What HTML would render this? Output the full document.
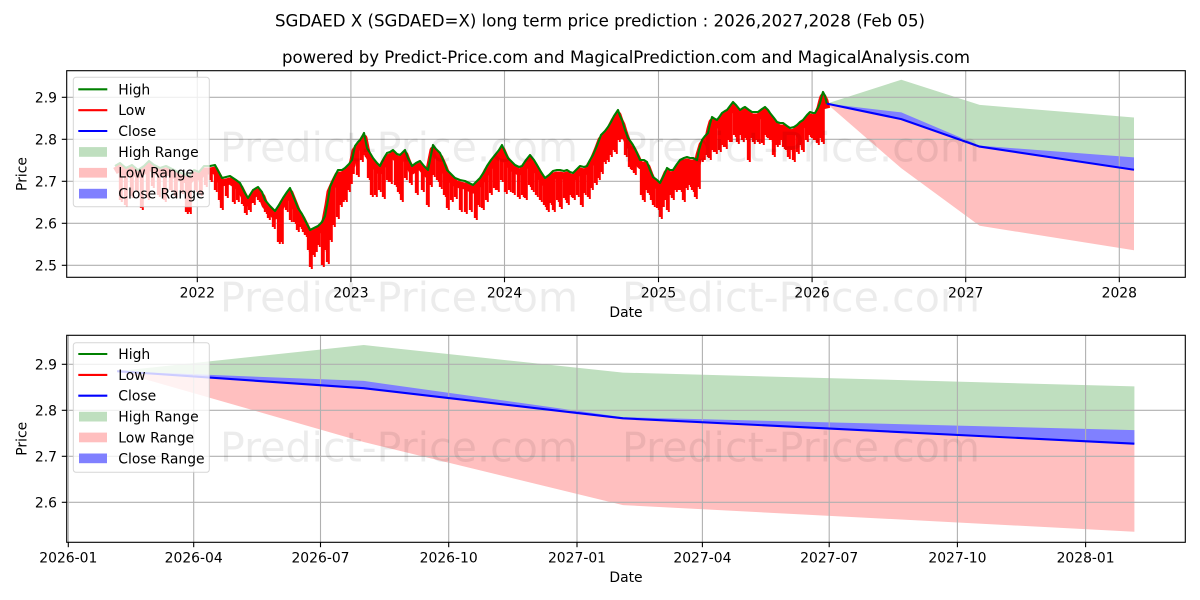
<!DOCTYPE html>
<html><head><meta charset="utf-8"><style>
html,body{margin:0;padding:0;background:#fff;}
svg{display:block;}
text{font-family:"DejaVu Sans","Liberation Sans",sans-serif;fill:#000;}
</style></head><body>
<svg width="1200" height="600" viewBox="0 0 1200 600" xmlns="http://www.w3.org/2000/svg">
<defs>
<polyline id="hi" fill="none" stroke-linejoin="round" points="115,166 120,163 126,168 132,165 138,170 144,166 149,161 154,165 160,168 166,166 172,169 178,172 184,174 189,176 194,170 199,172 204,166 210,166 215,165 222,178 230,176 236,180 240,183 245,193 248,198 253,190 258,187 262,192 265,200 270,206 275,211 279,205 283,198 287,192 290,188 294,198 298,208 302,214 305,220 308,226 310,230 314,228 318,226 322,222 325,216 328,200 330,187 334,178 338,170 342,170 345,168 349,164 352,160 355,146 358,142 360,140 362,137 364,133 367,148 370,153 373,158 377,163 380,166 384,158 387,153 390,152 393,150 397,154 400,155 405,150 408,158 412,166 416,163 420,161 424,166 428,170 431,155 433,145 436,149 440,153 444,162 447,170 451,174 455,178 460,180 465,181 469,183 473,185 477,181 480,178 484,172 487,166 491,160 495,155 499,150 502,145 505,152 508,158 512,162 515,165 519,167 522,166 526,160 530,155 534,160 537,165 541,172 545,178 549,175 553,171 557,170 560,170 564,171 567,170 570,172 573,173 577,169 580,166 584,167 587,166 590,160 593,155 596,148 598,143 601,135 605,131 608,127 611,122 614,116 618,110 620,116 622,120 625,130 628,138 631,142 633,145 637,153 640,160 644,160 647,162 650,170 653,177 657,180 660,183 664,175 667,168 670,170 673,170 677,164 680,160 684,158 687,157 690,158 693,158 697,160 699,150 702,140 705,136 708,133 710,124 712,117 715,119 717,120 720,116 722,113 725,111 727,110 730,106 733,102 736,105 740,110 743,108 745,107 749,110 752,112 755,112 758,112 762,109 765,107 768,110 770,113 774,118 777,122 780,123 783,123 787,126 790,128 794,127 797,125 800,122 803,120 807,115 810,112 813,113 815,113 818,108 820,103 822,95 823,92 825,96 826.8,103.6"/>
<path id="spk" fill="none" d="M120 166V200M125 170V205M131 168V196M136 172V190M141 170V208M147 166V198M152 166V186M158 170V195M164 170V200M170 171V190M175 175V196M181 176V192M186 177V212M189 179V212M195 173V190M200 174V194M205 169V185
M210 169V180M215 168V190M219 175V200M221 180V208M226 180V196M233 181V202M237 184V200M242 190V204M245 196V213M249 199V210M253 193V203M258 190V200M262 195V203M265 203V212M268 207V218M273 212V227M278 210V242M281 205V242M286 196V210M290 191V220M294 201V222M297 209V230M300 214V227M303 219V232M305 223V235M308 229V250M310 233V267M313 232V255M315 231V250M318 229V245M322 225V265M325 219V250M327 210V262M330 190V240M333 183V225M337 175V217M340 173V205M342 173V200M345 171V200M348 168V190M350 165V182M352 163V172M357 146V175M361 141V160M364 136V155M368 153V178M371 158V195M375 164V195M379 168V190M383 163V197M387 156V180M390 155V182M395 155V185M398 157V192M401 158V200M405 153V178M410 166V183M416 166V193M422 166V190M427 172V205M430 163V185M433 148V175M437 153V180M440 156V187M444 165V195M447 173V208M451 177V200M455 181V197M460 183V210M465 184V212M470 187V210M475 186V218M478 183V205M482 178V208M486 171V200M490 164V193M494 159V188M497 155V190M501 150V180M505 155V192M509 162V190M513 166V193M518 169V197M522 169V195M525 165V198M529 159V185M532 159V190M536 166V195M540 173V200M544 180V205M547 179V210M550 177V203M553 174V210M557 173V200M560 173V207M564 174V198M567 173V203M570 175V195M573 176V198M577 172V195M581 169V205M584 170V193M588 168V197M591 162V188M595 153V183M598 146V178M601 138V172M604 135V162M607 131V160M610 126V155M613 121V150M615 118V152M618 113V140M620 119V137M625 133V155M629 142V167M632 146V170M634 149V173M638 158V167M641 163V195M643 163V200M646 164V190M648 166V193M651 175V200M653 180V205M657 183V208M660 186V217M662 182V205M664 178V198M667 171V210M670 173V195M672 173V198M675 170V190M677 167V188M680 163V190M683 162V200M686 160V188M689 161V185M692 161V190M695 162V197M698 158V187M701 146V160M703 142V158M706 138V155M709 132V158M712 120V150M715 122V152M719 120V150M722 116V145M725 114V147M728 112V140M730 109V140M734 106V135M737 109V142M740 113V135M742 112V140M745 110V138M748 112V160M751 114V138M753 115V142M756 115V140M758 115V142M762 112V143M765 110V135M768 113V138M771 117V140M773 120V155M776 124V145M778 125V143M781 126V140M783 126V147M786 128V150M788 130V157M791 131V150M793 130V160M797 128V152M800 125V145M802 124V150M806 119V140M809 116V135M812 115V138M815 116V140M817 114V143M820 106V138M822 99V142"/>
</defs>

<text x="600" y="26.5" font-size="16.67" text-anchor="middle" textLength="650" lengthAdjust="spacingAndGlyphs">SGDAED X (SGDAED=X) long term price prediction : 2026,2027,2028 (Feb 05)</text>
<text x="626" y="63" font-size="16.67" text-anchor="middle" textLength="688" lengthAdjust="spacingAndGlyphs">powered by Predict-Price.com and MagicalPrediction.com and MagicalAnalysis.com</text>

<!-- ================= TOP CHART ================= -->
<polygon fill="#bfdfbf" points="826.8,103.6 901.3,79.7 979.6,104.9 1134,117.5 1134,169.75 979.6,146.6 901.3,119.1"/>
<polygon fill="#ffbfbf" points="826.8,103.6 901.3,119.1 979.6,146.6 1134,169.75 1134,250.2 979.6,225.8 901.3,168.3"/>
<polygon fill="#8080ff" points="826.8,103.6 901.3,112.4 979.6,145.6 1134,157.4 1134,169.75 979.6,146.6 901.3,119.1"/>

<g stroke="#b0b0b0" stroke-width="1.1">
<line x1="197.3" y1="70.7" x2="197.3" y2="277.3"/>
<line x1="350.9" y1="70.7" x2="350.9" y2="277.3"/>
<line x1="504.5" y1="70.7" x2="504.5" y2="277.3"/>
<line x1="658.5" y1="70.7" x2="658.5" y2="277.3"/>
<line x1="812.1" y1="70.7" x2="812.1" y2="277.3"/>
<line x1="965.7" y1="70.7" x2="965.7" y2="277.3"/>
<line x1="1119.3" y1="70.7" x2="1119.3" y2="277.3"/>
<line x1="66.7" y1="97.3" x2="1185.3" y2="97.3"/>
<line x1="66.7" y1="139.3" x2="1185.3" y2="139.3"/>
<line x1="66.7" y1="181.3" x2="1185.3" y2="181.3"/>
<line x1="66.7" y1="223.3" x2="1185.3" y2="223.3"/>
<line x1="66.7" y1="265.3" x2="1185.3" y2="265.3"/>
</g>

<use href="#hi" transform="translate(0,5)" stroke="#ff0000" stroke-width="7"/>
<use href="#spk" stroke="#ff0000" stroke-width="2.3"/>
<use href="#spk" transform="translate(1.8,2)" stroke="#ff0000" stroke-width="2"/>
<use href="#hi" stroke="#008000" stroke-width="2.1"/>

<polyline fill="none" stroke="#0000ff" stroke-width="2.1" stroke-linejoin="round" points="826.8,103.6 901.3,119.1 979.6,146.6 1134,169.75"/>

<rect x="66.7" y="70.7" width="1118.6" height="206.6" fill="none" stroke="#000" stroke-width="1.1"/>
<g stroke="#000" stroke-width="1.1">
<line x1="61.8" y1="97.3" x2="66.7" y2="97.3"/>
<line x1="61.8" y1="139.3" x2="66.7" y2="139.3"/>
<line x1="61.8" y1="181.3" x2="66.7" y2="181.3"/>
<line x1="61.8" y1="223.3" x2="66.7" y2="223.3"/>
<line x1="61.8" y1="265.3" x2="66.7" y2="265.3"/>
<line x1="197.3" y1="277.3" x2="197.3" y2="282.2"/>
<line x1="350.9" y1="277.3" x2="350.9" y2="282.2"/>
<line x1="504.5" y1="277.3" x2="504.5" y2="282.2"/>
<line x1="658.5" y1="277.3" x2="658.5" y2="282.2"/>
<line x1="812.1" y1="277.3" x2="812.1" y2="282.2"/>
<line x1="965.7" y1="277.3" x2="965.7" y2="282.2"/>
<line x1="1119.3" y1="277.3" x2="1119.3" y2="282.2"/>
</g>
<g font-size="13.9" text-anchor="end">
<text x="57" y="102.3">2.9</text>
<text x="57" y="144.3">2.8</text>
<text x="57" y="186.3">2.7</text>
<text x="57" y="228.3">2.6</text>
<text x="57" y="270.3">2.5</text>
</g>
<g font-size="13.9" text-anchor="middle">
<text x="197.3" y="297.5">2022</text>
<text x="350.9" y="297.5">2023</text>
<text x="504.5" y="297.5">2024</text>
<text x="658.5" y="297.5">2025</text>
<text x="812.1" y="297.5">2026</text>
<text x="965.7" y="297.5">2027</text>
<text x="1119.3" y="297.5">2028</text>
<text x="626" y="317">Date</text>
</g>
<text font-size="13.9" text-anchor="middle" transform="translate(26.5,174) rotate(-90)">Price</text>

<rect x="73.3" y="77.3" width="136" height="129.4" rx="2.8" fill="#fff" fill-opacity="0.8" stroke="#cccccc" stroke-opacity="0.8" stroke-width="1"/>
<g stroke-width="2.1">
<line x1="78.3" y1="89.3" x2="107.3" y2="89.3" stroke="#008000"/>
<line x1="78.3" y1="110.2" x2="107.3" y2="110.2" stroke="#ff0000"/>
<line x1="78.3" y1="131" x2="107.3" y2="131" stroke="#0000ff"/>
</g>
<rect x="79" y="147.1" width="28" height="9.7" fill="#bfdfbf"/>
<rect x="79" y="167.9" width="28" height="9.7" fill="#ffbfbf"/>
<rect x="79" y="188.8" width="28" height="9.7" fill="#8080ff"/>
<g font-size="13.9">
<text x="118.3" y="94.3">High</text>
<text x="118.3" y="115.2">Low</text>
<text x="118.3" y="136">Close</text>
<text x="118.3" y="156.9">High Range</text>
<text x="118.3" y="177.7">Low Range</text>
<text x="118.3" y="198.6">Close Range</text>
</g>

<!-- ================= BOTTOM CHART ================= -->
<polygon fill="#bfdfbf" points="117.1,371.2 363.7,345 623,372.6 1134.4,386.4 1134.4,443.7 623,418.3 363.7,388.2"/>
<polygon fill="#ffbfbf" points="117.1,371.2 363.7,388.2 623,418.3 1134.4,443.7 1134.4,531.7 623,505.1 363.7,442"/>
<polygon fill="#8080ff" points="117.1,371.2 363.7,380.9 623,417.2 1134.4,430.1 1134.4,443.7 623,418.3 363.7,388.2"/>

<g stroke="#b0b0b0" stroke-width="1.1">
<line x1="68.3" y1="335.3" x2="68.3" y2="542.3"/>
<line x1="193.7" y1="335.3" x2="193.7" y2="542.3"/>
<line x1="320.5" y1="335.3" x2="320.5" y2="542.3"/>
<line x1="448.7" y1="335.3" x2="448.7" y2="542.3"/>
<line x1="577" y1="335.3" x2="577" y2="542.3"/>
<line x1="702.4" y1="335.3" x2="702.4" y2="542.3"/>
<line x1="829.2" y1="335.3" x2="829.2" y2="542.3"/>
<line x1="957.4" y1="335.3" x2="957.4" y2="542.3"/>
<line x1="1085.6" y1="335.3" x2="1085.6" y2="542.3"/>
<line x1="66.7" y1="364.3" x2="1185.3" y2="364.3"/>
<line x1="66.7" y1="410.3" x2="1185.3" y2="410.3"/>
<line x1="66.7" y1="456.3" x2="1185.3" y2="456.3"/>
<line x1="66.7" y1="502.3" x2="1185.3" y2="502.3"/>
</g>

<polyline fill="none" stroke="#0000ff" stroke-width="2.1" stroke-linejoin="round" points="117.1,371.2 363.7,388.2 623,418.3 1134.4,443.7"/>

<rect x="66.7" y="335.3" width="1118.6" height="207" fill="none" stroke="#000" stroke-width="1.1"/>
<g stroke="#000" stroke-width="1.1">
<line x1="61.8" y1="364.3" x2="66.7" y2="364.3"/>
<line x1="61.8" y1="410.3" x2="66.7" y2="410.3"/>
<line x1="61.8" y1="456.3" x2="66.7" y2="456.3"/>
<line x1="61.8" y1="502.3" x2="66.7" y2="502.3"/>
<line x1="68.3" y1="542.3" x2="68.3" y2="547.2"/>
<line x1="193.7" y1="542.3" x2="193.7" y2="547.2"/>
<line x1="320.5" y1="542.3" x2="320.5" y2="547.2"/>
<line x1="448.7" y1="542.3" x2="448.7" y2="547.2"/>
<line x1="577" y1="542.3" x2="577" y2="547.2"/>
<line x1="702.4" y1="542.3" x2="702.4" y2="547.2"/>
<line x1="829.2" y1="542.3" x2="829.2" y2="547.2"/>
<line x1="957.4" y1="542.3" x2="957.4" y2="547.2"/>
<line x1="1085.6" y1="542.3" x2="1085.6" y2="547.2"/>
</g>
<g font-size="13.9" text-anchor="end">
<text x="57" y="369.3">2.9</text>
<text x="57" y="415.3">2.8</text>
<text x="57" y="461.3">2.7</text>
<text x="57" y="507.3">2.6</text>
</g>
<g font-size="13.9" text-anchor="middle">
<text x="68.3" y="562.5">2026-01</text>
<text x="193.7" y="562.5">2026-04</text>
<text x="320.5" y="562.5">2026-07</text>
<text x="448.7" y="562.5">2026-10</text>
<text x="577" y="562.5">2027-01</text>
<text x="702.4" y="562.5">2027-04</text>
<text x="829.2" y="562.5">2027-07</text>
<text x="957.4" y="562.5">2027-10</text>
<text x="1085.6" y="562.5">2028-01</text>
<text x="626" y="582">Date</text>
</g>
<text font-size="13.9" text-anchor="middle" transform="translate(26.5,438.8) rotate(-90)">Price</text>

<g font-size="41" style="fill:#000;fill-opacity:0.075">
<text x="220" y="161.5" textLength="358" lengthAdjust="spacingAndGlyphs">Predict-Price.com</text>
<text x="622" y="161.5" textLength="358" lengthAdjust="spacingAndGlyphs">Predict-Price.com</text>
<text x="220" y="311.7" textLength="358" lengthAdjust="spacingAndGlyphs">Predict-Price.com</text>
<text x="622" y="311.7" textLength="358" lengthAdjust="spacingAndGlyphs">Predict-Price.com</text>
<text x="220" y="461.7" textLength="358" lengthAdjust="spacingAndGlyphs">Predict-Price.com</text>
<text x="622" y="461.7" textLength="358" lengthAdjust="spacingAndGlyphs">Predict-Price.com</text>
</g>

<rect x="73.3" y="342.7" width="136" height="129.6" rx="2.8" fill="#fff" fill-opacity="0.8" stroke="#cccccc" stroke-opacity="0.8" stroke-width="1"/>
<g stroke-width="2.1">
<line x1="78.3" y1="354" x2="107.3" y2="354" stroke="#008000"/>
<line x1="78.3" y1="374.9" x2="107.3" y2="374.9" stroke="#ff0000"/>
<line x1="78.3" y1="395.7" x2="107.3" y2="395.7" stroke="#0000ff"/>
</g>
<rect x="79" y="411.8" width="28" height="9.7" fill="#bfdfbf"/>
<rect x="79" y="432.6" width="28" height="9.7" fill="#ffbfbf"/>
<rect x="79" y="453.5" width="28" height="9.7" fill="#8080ff"/>
<g font-size="13.9">
<text x="118.3" y="359">High</text>
<text x="118.3" y="379.9">Low</text>
<text x="118.3" y="400.7">Close</text>
<text x="118.3" y="421.6">High Range</text>
<text x="118.3" y="442.4">Low Range</text>
<text x="118.3" y="463.3">Close Range</text>
</g>
</svg>
</body></html>
